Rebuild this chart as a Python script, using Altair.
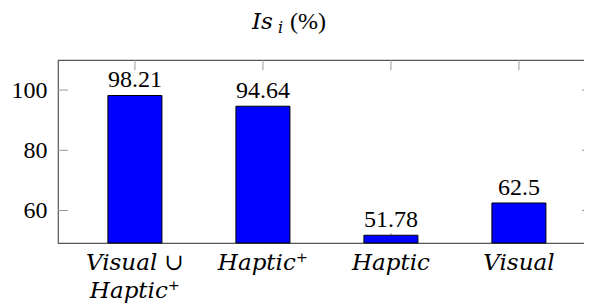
import altair as alt
import pandas as pd

categories = ["Visual ∪\nHaptic⁺", "Haptic⁺", "Haptic", "Visual"]
values = [98.21, 94.64, 51.78, 62.5]
y_ticks = [60, 80, 100]
y_domain = [49.2, 110]

W, H = 534, 183
df = pd.DataFrame({"cat": categories, "val": values})
tick_df = pd.DataFrame({"v": y_ticks})
one = pd.DataFrame({"a": [0]})

SERIF = "Liberation Serif"
ISERIF = "DejaVu Serif"

xenc = alt.X("cat:N", sort=categories, axis=None,
             scale=alt.Scale(paddingInner=0.578, paddingOuter=0.375, align=0.52))
yscale = alt.Scale(domain=y_domain, nice=False, zero=False)
yaxis = alt.Axis(values=y_ticks, ticks=False, domain=False, grid=False,
                 labelFont=SERIF, labelFontSize=24, labelColor="black",
                 labelPadding=11, title=None)

tick_col = "#9a9a9a"

xt_bottom = alt.Chart(df).mark_rule(color=tick_col, strokeWidth=1).encode(
    x=xenc, y=alt.value(H), y2=alt.value(H - 10))
xt_top = alt.Chart(df).mark_rule(color=tick_col, strokeWidth=1).encode(
    x=xenc, y=alt.value(0), y2=alt.value(10))
yt_left = alt.Chart(tick_df).mark_rule(color=tick_col, strokeWidth=1).encode(
    y=alt.Y("v:Q", scale=yscale, axis=yaxis),
    x=alt.value(0), x2=alt.value(10))
yt_right = alt.Chart(tick_df).mark_rule(color=tick_col, strokeWidth=1).encode(
    y=alt.Y("v:Q", scale=yscale, axis=yaxis), x=alt.value(W - 10), x2=alt.value(W))

bars = alt.Chart(df).mark_bar(color="#0000ff", stroke="black", strokeWidth=1).encode(
    x=xenc,
    y=alt.Y("val:Q", scale=yscale, axis=yaxis),
    y2=alt.datum(y_domain[0]))

vlabels = alt.Chart(df).mark_text(font=SERIF, fontSize=24, baseline="alphabetic",
                                  dy=-8, color="black").encode(
    x=xenc, y=alt.Y("val:Q", scale=yscale, axis=yaxis), text=alt.Text("val:Q"))

xlabels = alt.Chart(df).mark_text(font=ISERIF, fontStyle="italic", fontSize=23,
                                  baseline="alphabetic", lineBreak="\n", lineHeight=28,
                                  color="black").encode(
    x=xenc, y=alt.value(210), text="cat:N")

t1 = alt.Chart(one).mark_text(text="Is", font=ISERIF, fontStyle="italic", fontSize=23,
                              align="left", baseline="alphabetic", color="black").encode(
    x=alt.value(194), y=alt.value(-31))
t2 = alt.Chart(one).mark_text(text="i", font=ISERIF, fontStyle="italic", fontSize=16,
                              align="left", baseline="alphabetic", color="black").encode(
    x=alt.value(220), y=alt.value(-27))
t3 = alt.Chart(one).mark_text(text="(%)", font=SERIF, fontSize=24,
                              align="left", baseline="alphabetic", color="black").encode(
    x=alt.value(232), y=alt.value(-31))

chart = alt.layer(xt_bottom, bars, xt_top, yt_left, yt_right, vlabels, xlabels, t1, t2, t3).properties(
    width=W, height=H,
    autosize=alt.AutoSizeParams(type="none"),
    padding={"left": 50, "top": 52, "right": -8, "bottom": 65},
).configure_view(stroke="#555555", strokeWidth=1.2)

chart.save("out.html", embed_options={"renderer": "svg", "actions": False})
